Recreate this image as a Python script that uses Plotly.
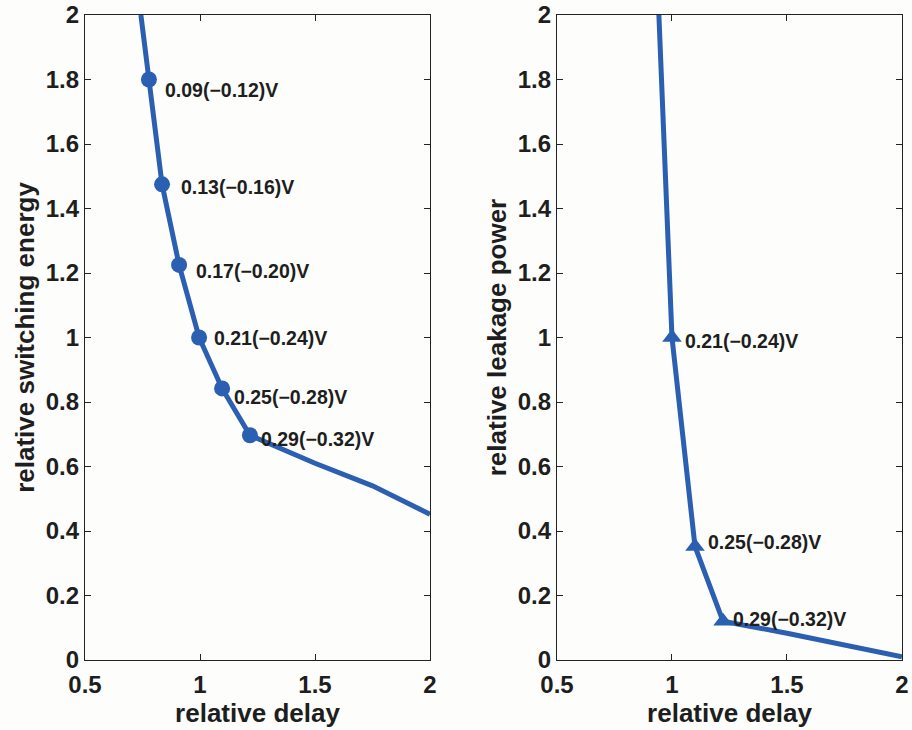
import plotly.graph_objects as go
from plotly.subplots import make_subplots

# Left panel: relative switching energy vs relative delay
sw_line_x = [0.743, 0.778, 0.835, 0.909, 0.996, 1.096, 1.217, 1.50, 1.75, 2.0]
sw_line_y = [2.0, 1.80, 1.475, 1.225, 1.0, 0.842, 0.697, 0.61, 0.54, 0.452]
sw_mark_x = [0.778, 0.835, 0.909, 0.996, 1.096, 1.217]
sw_mark_y = [1.80, 1.475, 1.225, 1.0, 0.842, 0.697]
sw_labels = ["0.09(\u22120.12)V", "0.13(\u22120.16)V", "0.17(\u22120.20)V",
             "0.21(\u22120.24)V", "0.25(\u22120.28)V", "0.29(\u22120.32)V"]

# Right panel: relative leakage power vs relative delay
lk_line_x = [0.943, 1.0, 1.10, 1.222, 1.50, 2.0]
lk_line_y = [2.0, 1.0, 0.352, 0.12, 0.083, 0.01]
lk_mark_x = [1.0, 1.10, 1.222]
lk_mark_y = [1.0, 0.352, 0.12]
lk_labels = ["0.21(\u22120.24)V", "0.25(\u22120.28)V", "0.29(\u22120.32)V"]

x_ticks = [0.5, 1, 1.5, 2]
x_tick_text = ["0.5", "1", "1.5", "2"]
y_ticks = [0, 0.2, 0.4, 0.6, 0.8, 1, 1.2, 1.4, 1.6, 1.8, 2]
y_tick_text = ["0", "0.2", "0.4", "0.6", "0.8", "1", "1.2", "1.4", "1.6", "1.8", "2"]

BLUE = "#2b5fb2"
TXT = "#1e1e1e"
FONT = "Liberation Sans"

fig = make_subplots(rows=1, cols=2)

fig.add_trace(go.Scatter(x=sw_line_x, y=sw_line_y, mode="lines",
                         line=dict(color=BLUE, width=5), hoverinfo="skip"), 1, 1)
fig.add_trace(go.Scatter(x=sw_mark_x, y=sw_mark_y, mode="markers",
                         marker=dict(color=BLUE, size=16, symbol="circle")), 1, 1)
fig.add_trace(go.Scatter(x=lk_line_x, y=lk_line_y, mode="lines",
                         line=dict(color=BLUE, width=5), hoverinfo="skip"), 1, 2)
fig.add_trace(go.Scatter(x=lk_mark_x, y=lk_mark_y, mode="markers",
                         marker=dict(color=BLUE, size=17, symbol="triangle-up")), 1, 2)

sw_xshift = [14, 17, 15, 13, 10, 9]
sw_yshift = [-10, -3, -6, 0, -9, -4]
for x, y, t, xs, ys in zip(sw_mark_x, sw_mark_y, sw_labels, sw_xshift, sw_yshift):
    fig.add_annotation(x=x, y=y, text="<b>" + t + "</b>", showarrow=False,
                       xanchor="left", yanchor="middle", xshift=xs, yshift=ys,
                       font=dict(family=FONT, size=19.5, color=TXT), xref="x", yref="y")
lk_xshift = [11, 11, 8]
lk_yshift = [-3, 4, 2]
for x, y, t, xs, ys in zip(lk_mark_x, lk_mark_y, lk_labels, lk_xshift, lk_yshift):
    fig.add_annotation(x=x, y=y, text="<b>" + t + "</b>", showarrow=False,
                       xanchor="left", yanchor="middle", xshift=xs, yshift=ys,
                       font=dict(family=FONT, size=19.5, color=TXT), xref="x2", yref="y2")

axis_common = dict(showgrid=False, zeroline=False, showline=True, linecolor="#222",
                   linewidth=1.2, mirror="ticks", ticks="inside", ticklen=6,
                   tickcolor="#222", ticklabeloverflow="allow",
                   tickfont=dict(family=FONT, size=24, color=TXT))

def bold(lst):
    return ["<b>" + s + "</b>" for s in lst]

for c in (1, 2):
    fig.update_xaxes(range=[0.5, 2], tickvals=x_ticks, ticktext=bold(x_tick_text),
                     ticklabelstandoff=3,
                     title=dict(text="<b>relative delay</b>", standoff=1,
                                font=dict(family=FONT, size=26, color=TXT)),
                     row=1, col=c, **axis_common)
fig.update_yaxes(range=[0, 2], tickvals=y_ticks, ticktext=bold(y_tick_text),
                 title=dict(text="<b>relative switching energy</b>", standoff=3,
                            font=dict(family=FONT, size=26, color=TXT)),
                 row=1, col=1, **axis_common)
fig.update_yaxes(range=[0, 2], tickvals=y_ticks, ticktext=bold(y_tick_text),
                 title=dict(text="<b>relative leakage power</b>", standoff=3,
                            font=dict(family=FONT, size=26, color=TXT)),
                 row=1, col=2, **axis_common)

fig.update_xaxes(domain=[0.0, 0.4223], row=1, col=1)
fig.update_xaxes(domain=[0.5777, 1.0], row=1, col=2)

fig.update_layout(width=912, height=730, showlegend=False,
                  margin=dict(l=85, r=10, t=15, b=70, autoexpand=False),
                  paper_bgcolor="#fdfdfb", plot_bgcolor="#fdfdfb",
                  font=dict(family=FONT))

fig.write_html("out.html")
